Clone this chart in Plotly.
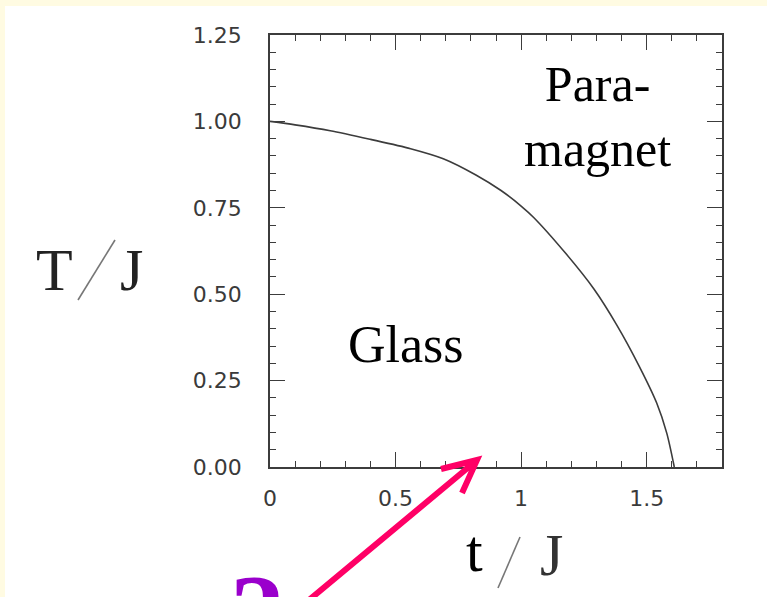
import plotly.graph_objects as go

# Phase boundary between the glass and the paramagnet
t_over_J = [0.0, 0.10, 0.24, 0.40, 0.56, 0.69, 0.82, 0.92, 1.00, 1.05, 1.18,
            1.29, 1.38, 1.47, 1.54, 1.58, 1.61]
T_over_J = [1.00, 0.990, 0.973, 0.948, 0.921, 0.892, 0.845, 0.800, 0.755, 0.722,
            0.616, 0.515, 0.412, 0.292, 0.185, 0.098, 0.0]

x_ticks = [0, 0.5, 1, 1.5]
x_ticktext = ["0", "0.5", "1", "1.5"]
y_ticks = [0, 0.25, 0.5, 0.75, 1.0, 1.25]
y_ticktext = ["0.00", "0.25", "0.50", "0.75", "1.00", "1.25"]

W, H = 767, 597
L, R, T, B = 270, 45, 35, 130
PW, PH = W - L - R, H - T - B


def px(x):
    return (x - L) / PW


def py(y):
    return (H - B - y) / PH


fig = go.Figure()
fig.add_trace(go.Scatter(
    x=t_over_J, y=T_over_J, mode="lines",
    line=dict(color="#3c3c3c", width=1.6, shape="spline", smoothing=0.8),
    hoverinfo="skip",
))

axis_common = dict(
    showline=True, linecolor="#3c3c3c", linewidth=1.5, mirror="ticks",
    ticks="inside", ticklen=15, tickwidth=1.3, tickcolor="#3c3c3c",
    showgrid=False, zeroline=False,
    tickfont=dict(family="DejaVu Sans", size=22, color="#3a3a3a"),
)

fig.update_xaxes(
    range=[0, 1.8], tickmode="array", tickvals=x_ticks, ticktext=x_ticktext,
    minor=dict(ticks="inside", ticklen=6, tickwidth=1.1, tickcolor="#3c3c3c",
               dtick=0.1, tick0=0),
    ticklabelstandoff=11, **axis_common,
)
fig.update_yaxes(
    range=[0, 1.25], tickmode="array", tickvals=y_ticks, ticktext=y_ticktext,
    minor=dict(ticks="inside", ticklen=6, tickwidth=1.1, tickcolor="#3c3c3c",
               dtick=0.05, tick0=0),
    ticklabelstandoff=22, **axis_common,
)

serif = "Liberation Serif"
annotations = [
    dict(text="Para-<br>magnet", x=1.305, y=1.015, xref="x", yref="y",
         font=dict(family=serif, size=50, color="black"), align="center"),
    dict(text="Glass", x=0.54, y=0.355, xref="x", yref="y",
         font=dict(family=serif, size=52, color="black")),
    dict(text="T", x=px(54), y=py(270), xref="paper", yref="paper",
         font=dict(family=serif, size=60, color="#222")),
    dict(text="J", x=px(131), y=py(270), xref="paper", yref="paper",
         font=dict(family=serif, size=60, color="#222")),
    dict(text="t", x=px(474), y=py(551), xref="paper", yref="paper",
         font=dict(family=serif, size=60, color="black")),
    dict(text="J", x=px(551), y=py(555), xref="paper", yref="paper",
         font=dict(family=serif, size=60, color="#333")),
    dict(text="<b>?</b>", x=px(257), y=py(613), xref="paper", yref="paper",
         font=dict(family=serif, size=110, color="#9a00cc")),
]
for a in annotations:
    a.update(showarrow=False, xanchor="center", yanchor="middle")

shapes = [
    # cream border strips
    dict(type="rect", xref="paper", yref="paper", x0=px(0), x1=px(W), y0=py(0), y1=py(6),
         fillcolor="#fffbe2", line=dict(width=0), layer="below"),
    dict(type="rect", xref="paper", yref="paper", x0=px(0), x1=px(5), y0=py(0), y1=py(H),
         fillcolor="#fffbe2", line=dict(width=0), layer="below"),
    # slashes of the axis labels
    dict(type="line", xref="paper", yref="paper", x0=px(78), y0=py(300), x1=px(115), y1=py(240),
         line=dict(color="#777", width=1.6)),
    dict(type="line", xref="paper", yref="paper", x0=px(498), y0=py(588), x1=px(520), y1=py(537),
         line=dict(color="#777", width=1.6)),
    # pointer arrow
    dict(type="path", xref="paper", yref="paper",
         path=(f"M {px(309)} {py(600)} L {px(476)} {py(461)} "
               f"M {px(441)} {py(469)} L {px(477)} {py(460)} L {px(462)} {py(493)}"),
         line=dict(color="#ff0066", width=6)),
]

fig.update_layout(
    width=W, height=H, margin=dict(l=L, r=R, t=T, b=B, pad=0),
    paper_bgcolor="white", plot_bgcolor="white", showlegend=False,
    annotations=annotations, shapes=shapes,
)

fig.write_html("out.html")
